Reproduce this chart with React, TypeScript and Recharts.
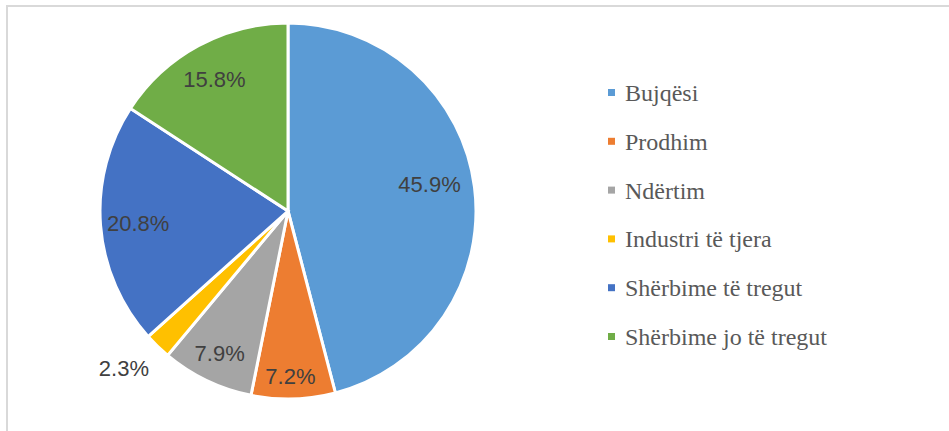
import { PieChart, Pie, Cell } from "recharts";

const SECTORS = ["Bujqësi", "Prodhim", "Ndërtim", "Industri të tjera", "Shërbime të tregut", "Shërbime jo të tregut"];
const SHARES = [45.9, 7.2, 7.9, 2.3, 20.8, 15.8];

const COLORS = ["#5B9BD5", "#ED7D31", "#A5A5A5", "#FFC000", "#4472C4", "#70AD47"];
// label distance from centre (fraction of radius) and a small angular nudge (deg, clockwise)
const LABEL_R = [0.766, 0.878, 0.842, 1.21, 0.8, 0.8];
const LABEL_NUDGE = [-3.4, 0.8, 0, 2.2, -0.3, -0.8];

const RAD = Math.PI / 180;
const SERIF = "Liberation Serif, Times New Roman, Times, serif";

const data = SECTORS.map((name, i) => ({ name, value: SHARES[i] }));

function renderLabel(props: any) {
  const { cx, cy, midAngle, outerRadius, index, value } = props;
  const a = (midAngle - LABEL_NUDGE[index]) * RAD;
  const r = outerRadius * LABEL_R[index];
  const x = cx + r * Math.cos(a);
  const y = cy - r * Math.sin(a);
  return (
    <text
      x={x}
      y={y}
      fill="#404040"
      fontSize={22}
      fontFamily="'Liberation Sans', Arial, sans-serif"
      textAnchor="middle"
      dominantBaseline="central"
    >
      {value.toFixed(1)}%
    </text>
  );
}

function LegendList() {
  return (
    <svg width={330} height={300} style={{ position: "absolute", left: 600, top: 68 }}>
      {SECTORS.map((s, i) => {
        const y = 25 + i * 48.8;
        return (
          <g key={s}>
            <rect x={8} y={y - 4} width={7} height={7} fill={COLORS[i]} />
            <text x={25} y={y} fontFamily={SERIF} fontSize={24} fill="#595959" dominantBaseline="central">
              {s}
            </text>
          </g>
        );
      })}
    </svg>
  );
}

export default function App() {
  return (
    <div style={{ position: "fixed", left: 0, top: 0, width: 949, height: 431, background: "#fff", overflow: "hidden" }}>
      <div
        style={{
          position: "absolute",
          left: 6,
          top: 5,
          width: 1000,
          height: 500,
          border: "2px solid #d9d9d9",
          boxSizing: "border-box",
        }}
      />
      <div style={{ position: "absolute", left: 0, top: 0 }}>
        <PieChart width={949} height={431} margin={{ top: 0, right: 0, bottom: 0, left: 0 }}>
          <Pie
            data={data}
            dataKey="value"
            nameKey="name"
            cx={288}
            cy={211}
            outerRadius={188}
            startAngle={90}
            endAngle={-270}
            stroke="#ffffff"
            strokeWidth={3}
            label={renderLabel}
            labelLine={false}
            isAnimationActive={false}
          >
            {data.map((d, i) => (
              <Cell key={d.name} fill={COLORS[i]} />
            ))}
          </Pie>
        </PieChart>
      </div>
      <LegendList />
    </div>
  );
}
